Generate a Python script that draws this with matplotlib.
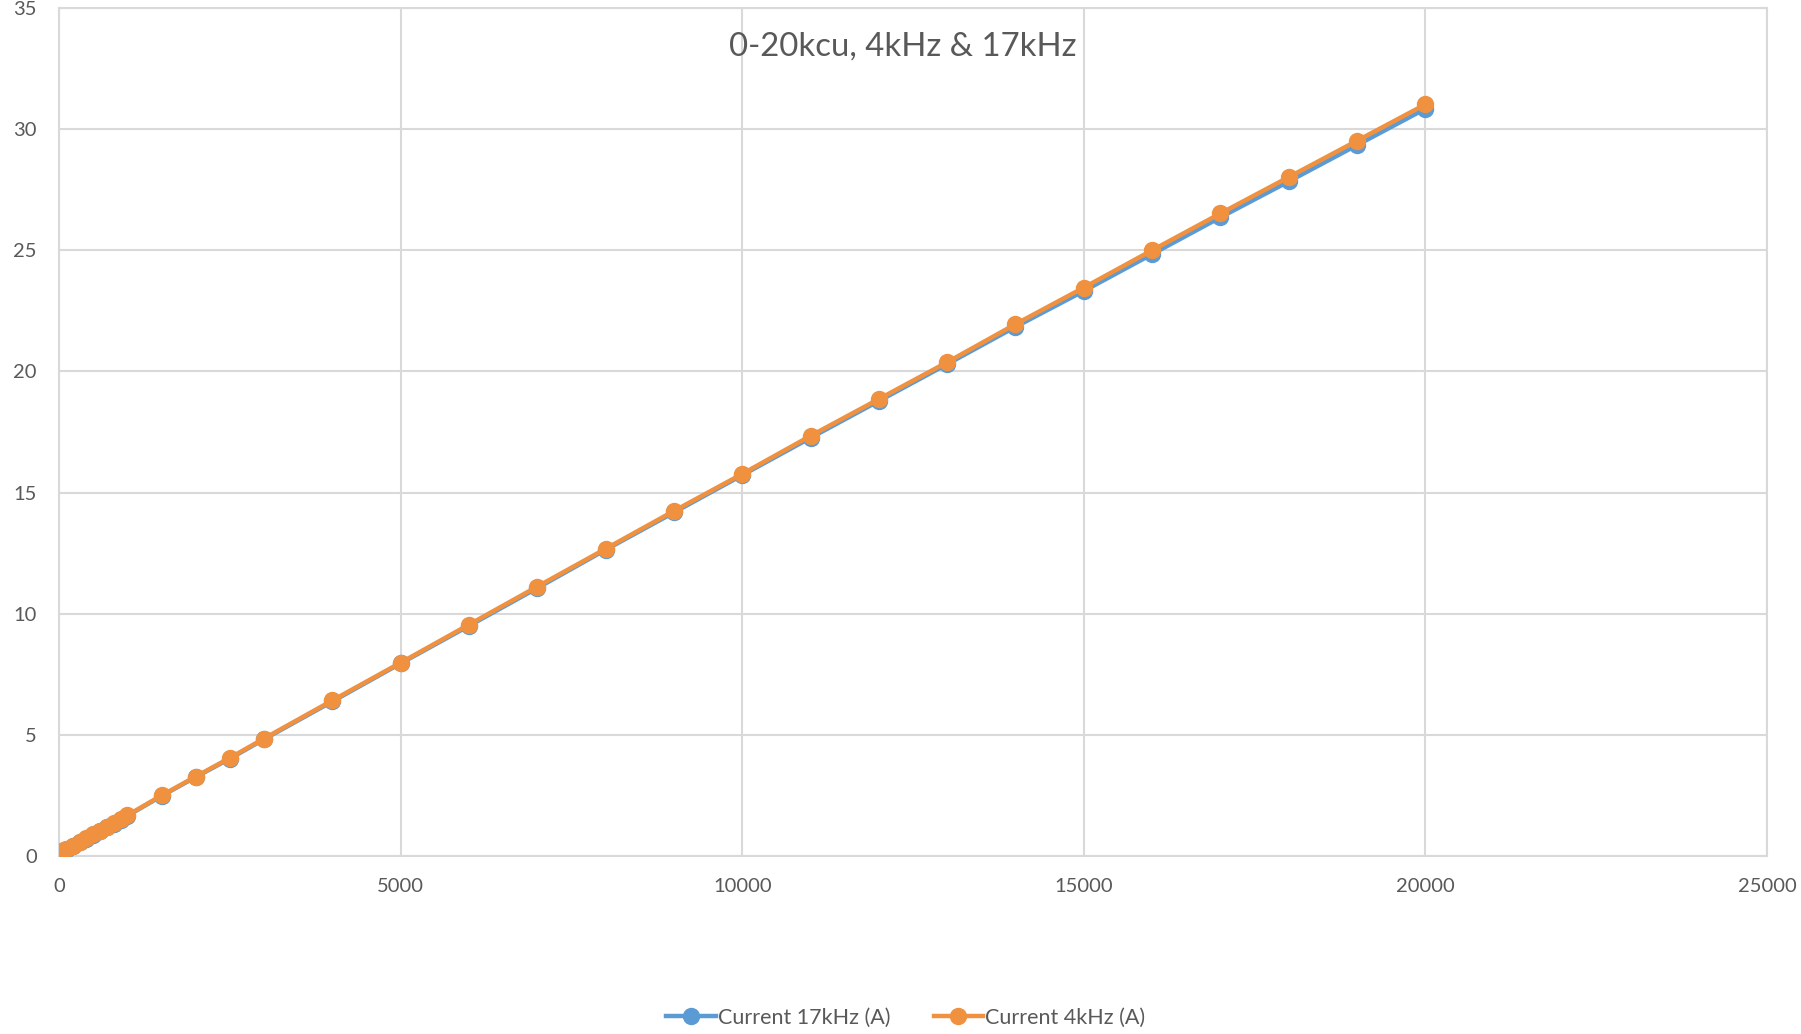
import matplotlib
matplotlib.use("Agg")
import matplotlib.pyplot as plt

# Data
cu = [0, 25, 50, 75, 100, 200, 300, 400, 500, 600, 700, 800, 900, 1000,
      1500, 2000, 2500, 3000, 4000, 5000, 6000, 7000, 8000, 9000, 10000,
      11000, 12000, 13000, 14000, 15000, 16000, 17000, 18000, 19000, 20000]
current_4k = [0.12, 0.16, 0.20, 0.24, 0.28, 0.43, 0.59, 0.74, 0.90, 1.05, 1.20, 1.36, 1.52, 1.68,
              2.50, 3.28, 4.05, 4.85, 6.42, 7.98, 9.55, 11.12, 12.68, 14.24, 15.77,
              17.34, 18.86, 20.38, 21.95, 23.46, 25.00, 26.52, 28.02, 29.52, 31.02]
current_17k = [0.10, 0.14, 0.18, 0.22, 0.26, 0.41, 0.57, 0.72, 0.88, 1.03, 1.18, 1.34, 1.50, 1.66,
               2.48, 3.26, 4.02, 4.82, 6.38, 7.95, 9.50, 11.06, 12.64, 14.18, 15.72,
               17.26, 18.78, 20.30, 21.84, 23.32, 24.84, 26.36, 27.84, 29.34, 30.84]

series_labels = ["Current 17kHz (A)", "Current 4kHz (A)"]
title = "0-20kcu, 4kHz & 17kHz"
xticks = [0, 5000, 10000, 15000, 20000, 25000]
yticks = [0, 5, 10, 15, 20, 25, 30, 35]

plt.rcParams['font.family'] = ['Lato', 'DejaVu Sans']
fig = plt.figure(figsize=(18.01, 10.34), dpi=100)
ax = fig.add_axes([0.0328, 0.1721, 0.9483, 0.8202])

blue = '#5B9BD5'
orange = '#F0913F'
ax.plot(cu, current_17k, color=blue, lw=3.2, marker='o', ms=11.5, label=series_labels[0], zorder=3)
ax.plot(cu, current_4k, color=orange, lw=3.2, marker='o', ms=11.5, label=series_labels[1], zorder=4)

ax.set_xlim(0, 25000)
ax.set_ylim(0, 35)
ax.set_xticks(xticks)
ax.set_yticks(yticks)
ax.grid(True, color='#D9D9D9', lw=1.5, zorder=0)
ax.set_axisbelow(True)
for s in ax.spines.values():
    s.set_color('#D9D9D9')
    s.set_linewidth(1.5)
ax.tick_params(length=0, labelsize=14.5, colors='#595959')
ax.tick_params(axis='x', pad=16)
ax.tick_params(axis='y', pad=16)

ax.text(0.494, 0.955, title, transform=ax.transAxes, ha='center', va='center',
        fontsize=23.7, color='#595959')

fig.legend(loc='center', bbox_to_anchor=(0.503, 0.016), ncol=2, frameon=False,
           fontsize=15.5, labelcolor='#595959', handlelength=2.3, handletextpad=0.1,
           columnspacing=2.0)

fig.savefig('out.png', dpi=100)
